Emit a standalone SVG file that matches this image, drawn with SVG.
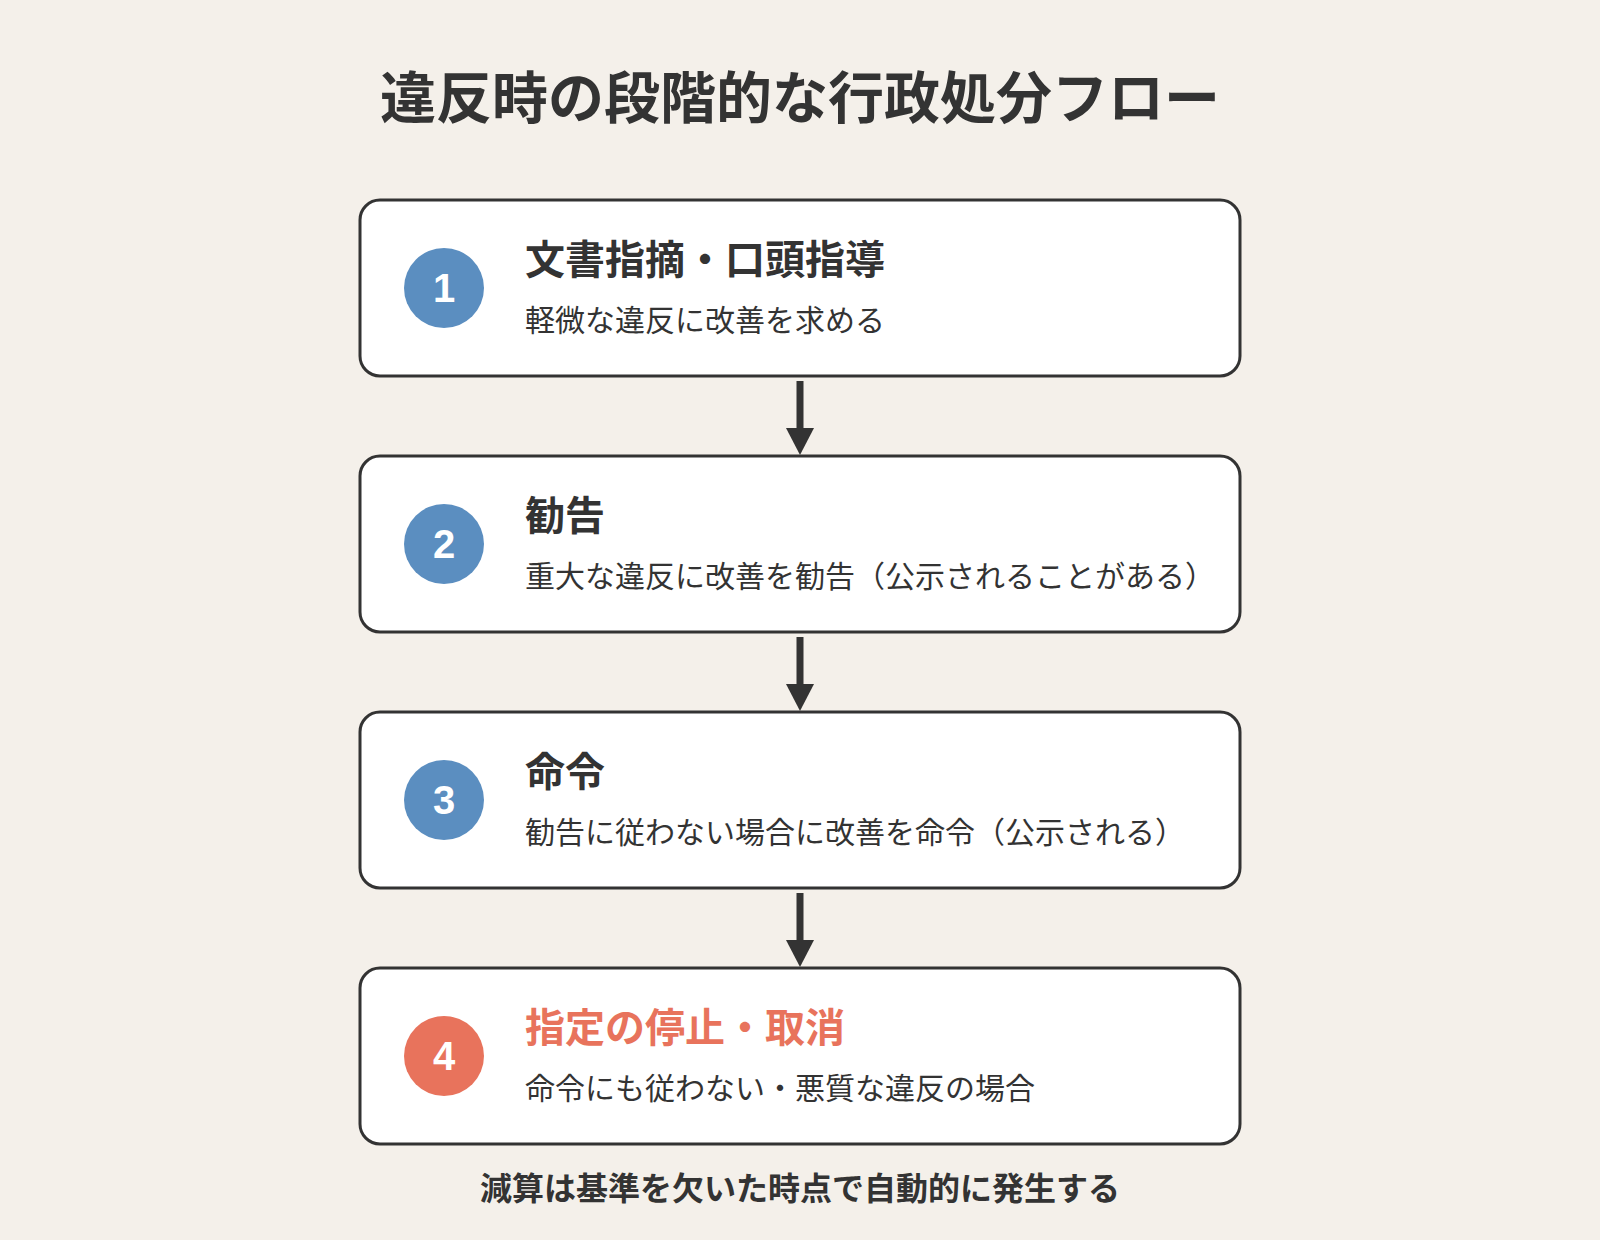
<svg xmlns="http://www.w3.org/2000/svg" width="1600" height="1240" viewBox="0 0 1600 1240">
<defs>
<style>
.bg{fill:#f4f0ea}
.box{fill:#ffffff;stroke:#333333;stroke-width:3}
.t{font-family:"Noto Sans CJK JP","Noto Sans",sans-serif;font-weight:700;font-size:40px;fill:#333333}
.s{font-family:"Noto Sans CJK JP","Noto Sans",sans-serif;font-weight:400;font-size:30px;fill:#333333}
.num{font-family:"Liberation Sans",Arial,sans-serif;font-weight:700;font-size:40px;fill:#ffffff;text-anchor:middle}
.blue{fill:#5b8ec0}
.red{fill:#e8735c}
.shaft{stroke:#333333;stroke-width:7}
.head{fill:#333333}
</style>
</defs>
<rect class="bg" x="0" y="0" width="1600" height="1240"/>
<text x="800" y="118" text-anchor="middle" style="font-family:'Noto Sans CJK JP','Noto Sans',sans-serif;font-weight:700;font-size:56px;fill:#333333">違反時の段階的な行政処分フロー</text>

<g id="connectors">
<line class="shaft" x1="800" y1="381" x2="800" y2="430"/>
<polygon class="head" points="786,428 814,428 800,455"/>
<line class="shaft" x1="800" y1="637" x2="800" y2="686"/>
<polygon class="head" points="786,684 814,684 800,711"/>
<line class="shaft" x1="800" y1="893" x2="800" y2="942"/>
<polygon class="head" points="786,940 814,940 800,967"/>
</g>

<g id="step1">
<rect class="box" x="360" y="200" width="880" height="176" rx="20"/>
<circle class="blue" cx="444" cy="288" r="40"/>
<text class="num" x="444" y="302">1</text>
<text class="t" x="525" y="274">文書指摘・口頭指導</text>
<text class="s" x="525" y="331">軽微な違反に改善を求める</text>
</g>

<g id="step2">
<rect class="box" x="360" y="456" width="880" height="176" rx="20"/>
<circle class="blue" cx="444" cy="544" r="40"/>
<text class="num" x="444" y="558">2</text>
<text class="t" x="525" y="530">勧告</text>
<text class="s" x="525" y="587">重大な違反に改善を勧告（公示されることがある）</text>
</g>

<g id="step3">
<rect class="box" x="360" y="712" width="880" height="176" rx="20"/>
<circle class="blue" cx="444" cy="800" r="40"/>
<text class="num" x="444" y="814">3</text>
<text class="t" x="525" y="786">命令</text>
<text class="s" x="525" y="843">勧告に従わない場合に改善を命令（公示される）</text>
</g>

<g id="step4">
<rect class="box" x="360" y="968" width="880" height="176" rx="20"/>
<circle class="red" cx="444" cy="1056" r="40"/>
<text class="num" x="444" y="1070">4</text>
<text class="t" x="525" y="1042" style="fill:#e8735c">指定の停止・取消</text>
<text class="s" x="525" y="1099">命令にも従わない・悪質な違反の場合</text>
</g>

<text x="800" y="1200" text-anchor="middle" style="font-family:'Noto Sans CJK JP','Noto Sans',sans-serif;font-weight:700;font-size:32px;fill:#333333">減算は基準を欠いた時点で自動的に発生する</text>
</svg>
